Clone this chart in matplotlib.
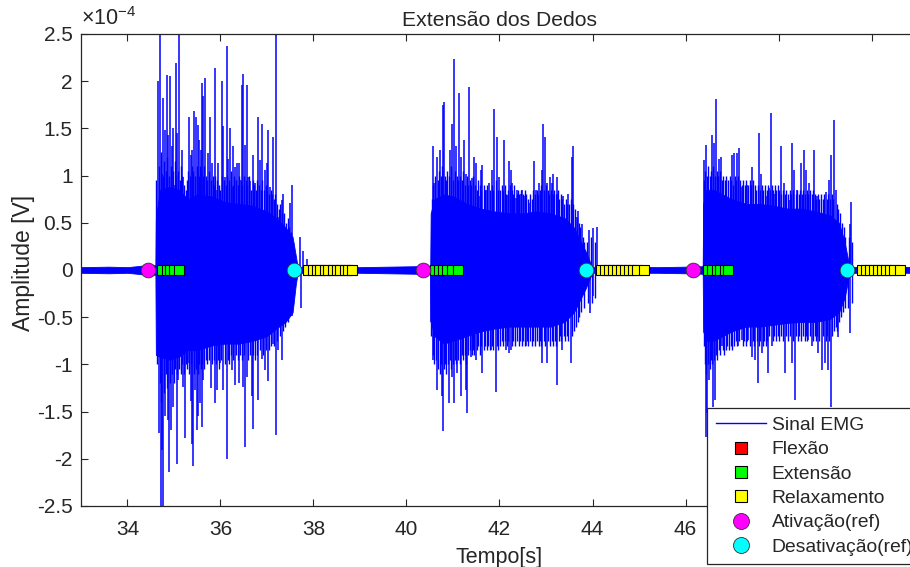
import numpy as np
import matplotlib
matplotlib.use('Agg')
import matplotlib.pyplot as plt
from matplotlib.lines import Line2D
from matplotlib.ticker import FuncFormatter

plt.rcParams['font.family'] = ['Liberation Sans', 'DejaVu Sans']
plt.rcParams['mathtext.fontset'] = 'custom'
plt.rcParams['mathtext.rm'] = 'Liberation Sans'
plt.rcParams['mathtext.it'] = 'Liberation Sans:italic'
plt.rcParams['axes.unicode_minus'] = False

SCALE = 1e-4  # values below are in units of 1e-4 V

# ---- dense core envelope of the EMG signal (x 1e-4 V) ----
core_t = [33.0, 33.6, 34.0, 34.3, 34.5, 34.60,
          34.61, 34.7, 34.9, 35.1, 35.3, 35.5, 35.8, 36.1, 36.4, 36.7, 37.0, 37.2, 37.4, 37.55, 37.62,
          37.66, 38.2, 39.0, 39.6, 40.2, 40.51,
          40.52, 40.6, 40.8, 41.0, 41.3, 41.6, 41.9, 42.2, 42.5, 42.8, 43.1, 43.4, 43.6, 43.75, 43.85, 43.95,
          44.0, 44.6, 45.4, 46.0, 46.37,
          46.38, 46.45, 46.6, 46.8, 47.0, 47.3, 47.6, 47.9, 48.2, 48.5, 48.8, 49.1, 49.3, 49.42, 49.5,
          49.55, 50.2, 51.0]
core_hi = [0.03, 0.035, 0.03, 0.045, 0.05, 0.05,
           0.55, 0.85, 0.88, 0.85, 0.75, 0.80, 0.78, 0.72, 0.70, 0.68, 0.62, 0.55, 0.45, 0.35, 0.15,
           0.03, 0.035, 0.03, 0.035, 0.04, 0.04,
           0.60, 0.75, 0.80, 0.78, 0.70, 0.65, 0.62, 0.60, 0.60, 0.62, 0.60, 0.55, 0.45, 0.30, 0.20, 0.08,
           0.03, 0.035, 0.03, 0.035, 0.04,
           0.70, 0.85, 0.85, 0.80, 0.75, 0.70, 0.70, 0.68, 0.65, 0.65, 0.62, 0.58, 0.50, 0.30, 0.10,
           0.03, 0.035, 0.03]
core_lo = [-0.03, -0.035, -0.03, -0.045, -0.05, -0.05,
           -0.90, -0.92, -0.95, -0.92, -0.85, -0.85, -0.80, -0.78, -0.78, -0.75, -0.70, -0.62, -0.55, -0.45, -0.15,
           -0.03, -0.03, -0.03, -0.035, -0.04, -0.04,
           -0.55, -0.70, -0.78, -0.75, -0.70, -0.65, -0.62, -0.60, -0.60, -0.60, -0.60, -0.55, -0.45, -0.30, -0.20, -0.08,
           -0.03, -0.03, -0.03, -0.035, -0.04,
           -0.65, -0.75, -0.75, -0.70, -0.65, -0.60, -0.60, -0.58, -0.56, -0.55, -0.55, -0.52, -0.45, -0.30, -0.10,
           -0.03, -0.03, -0.03]

# ---- dense medium peaks forming the ragged edge of the bursts (x 1e-4 V) ----
mid_up_t = [34.62, 34.68, 34.72, 34.76, 34.79, 34.82, 34.86, 34.89, 34.93, 34.97, 35.02, 35.05, 35.09, 35.13,
            35.15, 35.18, 35.22, 35.25, 35.28, 35.31, 35.34, 35.38, 35.41, 35.45, 35.49, 35.53, 35.56, 35.59,
            35.62, 35.65, 35.69, 35.72, 35.76, 35.79, 35.83, 35.85, 35.89, 35.93, 35.97, 36.00, 36.04, 36.08,
            36.11, 36.15, 36.19, 36.22, 36.26, 36.29, 36.33, 36.37, 36.40, 36.44, 36.47, 36.51, 36.55, 36.58,
            36.62, 36.66, 36.69, 36.72, 36.76, 36.79, 36.83, 36.87, 36.90, 36.93, 36.97, 37.01, 37.04, 37.08,
            37.11, 37.15, 37.17, 37.21, 37.26, 37.29, 37.33, 37.37, 37.40, 37.45, 37.48, 37.51, 37.56,
            40.54, 40.58, 40.62, 40.67, 40.70, 40.74, 40.76, 40.82, 40.84, 40.88, 40.91, 40.95, 41.00, 41.04,
            41.08, 41.11, 41.15, 41.19, 41.21, 41.25, 41.30, 41.33, 41.37, 41.39, 41.43, 41.47, 41.51, 41.54,
            41.58, 41.61, 41.66, 41.69, 41.73, 41.80, 41.83, 41.87, 41.92, 41.96, 42.01, 42.05, 42.08, 42.12,
            42.15, 42.19, 42.22, 42.26, 42.30, 42.32, 42.37, 42.40, 42.43, 42.47, 42.51, 42.55, 42.58, 42.61,
            42.65, 42.69, 42.72, 42.76, 42.80, 42.83, 42.87, 42.90, 42.96, 43.00, 43.04, 43.06, 43.10, 43.14,
            43.18, 43.21, 43.25, 43.29, 43.32, 43.35, 43.39, 43.43, 43.46, 43.50, 43.53, 43.57, 43.62, 43.67,
            43.71, 43.74, 43.79, 43.82, 43.88, 43.97, 44.05,
            46.40, 46.42, 46.46, 46.49, 46.52, 46.55, 46.59, 46.63, 46.67, 46.70, 46.74, 46.78, 46.81, 46.84,
            46.88, 46.91, 46.95, 46.98, 47.02, 47.06, 47.09, 47.13, 47.17, 47.21, 47.24, 47.27, 47.31, 47.35,
            47.38, 47.41, 47.45, 47.49, 47.52, 47.55, 47.60, 47.64, 47.67, 47.70, 47.75, 47.78, 47.81, 47.85,
            47.88, 47.92, 47.95, 47.98, 48.02, 48.06, 48.09, 48.13, 48.16, 48.20, 48.24, 48.27, 48.31, 48.37,
            48.40, 48.44, 48.47, 48.51, 48.53, 48.57, 48.61, 48.64, 48.68, 48.71, 48.74, 48.78, 48.81, 48.85,
            48.88, 48.91, 48.95, 48.98, 49.04, 49.06, 49.10, 49.16, 49.18, 49.25, 49.28, 49.33, 49.37, 49.40,
            49.44, 49.51, 49.59]
mid_up_v = [0.95, 1.10, 1.25, 1.00, 1.15, 1.05, 1.20, 1.00, 1.10, 1.05, 1.15, 1.00, 1.05, 0.95,
            1.10, 1.00, 0.90, 0.85, 0.95, 1.05, 1.00, 1.10, 1.05, 1.00, 1.10, 1.00, 1.10, 1.05,
            1.00, 1.10, 1.00, 0.95, 1.05, 0.95, 1.00, 0.90, 1.00, 0.95, 0.90, 0.85, 1.00, 0.95,
            0.90, 1.00, 0.95, 1.05, 0.90, 1.00, 0.95, 0.90, 1.00, 0.95, 0.90, 1.00, 0.95, 0.90,
            1.00, 0.85, 0.95, 0.90, 0.85, 0.95, 0.90, 0.85, 0.95, 0.85, 0.90, 0.85, 0.80, 0.85,
            0.80, 0.75, 0.80, 0.70, 0.65, 0.70, 0.60, 0.60, 0.50, 0.55, 0.45, 0.40, 0.30,
            0.75, 0.90, 1.00, 0.95, 1.05, 1.00, 1.10, 1.00, 0.95, 1.05, 1.00, 1.10, 0.95, 1.05,
            1.00, 0.95, 1.00, 0.95, 1.05, 0.90, 1.00, 0.90, 0.95, 0.90, 1.00, 0.90, 0.85, 0.95,
            0.90, 0.85, 0.90, 0.85, 0.90, 0.85, 0.90, 0.85, 0.95, 0.85, 0.85, 0.90, 0.85, 0.90,
            0.80, 0.85, 0.90, 0.85, 0.80, 0.90, 0.80, 0.85, 0.80, 0.85, 0.80, 0.85, 0.80, 0.75,
            0.80, 0.75, 0.85, 0.80, 0.85, 0.80, 0.85, 0.90, 0.85, 0.90, 0.85, 0.80, 0.85, 0.80,
            0.85, 0.80, 0.85, 0.75, 0.80, 0.75, 0.70, 0.75, 0.70, 0.70, 0.75, 0.70, 0.65, 0.55,
            0.50, 0.45, 0.35, 0.30, 0.30, 0.35, 0.30,
            0.95, 1.05, 1.00, 1.10, 1.00, 1.05, 1.10, 1.00, 1.05, 1.00, 1.05, 0.95, 1.00, 0.95,
            1.00, 0.95, 1.00, 0.95, 0.90, 1.00, 0.95, 1.00, 0.95, 0.90, 0.95, 0.90, 0.95, 0.90,
            0.95, 0.90, 0.95, 0.90, 0.85, 0.90, 0.85, 0.90, 0.85, 0.90, 0.85, 0.90, 0.85, 0.90,
            0.85, 0.90, 0.85, 0.90, 0.85, 0.80, 0.85, 0.80, 0.85, 0.80, 0.85, 0.80, 0.85, 0.80,
            0.85, 0.80, 0.85, 0.80, 0.85, 0.80, 0.85, 0.80, 0.85, 0.80, 0.85, 0.80, 0.75, 0.80,
            0.75, 0.80, 0.75, 0.80, 0.75, 0.80, 0.75, 0.80, 0.75, 0.70, 0.65, 0.60, 0.50, 0.45,
            0.35, 0.35, 0.30]

mid_dn_t = [34.63, 34.69, 34.73, 34.79, 34.83, 34.86, 34.92, 34.96, 35.00, 35.03, 35.07, 35.11, 35.14, 35.18,
            35.22, 35.26, 35.29, 35.33, 35.37, 35.43, 35.47, 35.51, 35.54, 35.58, 35.61, 35.65, 35.68, 35.72,
            35.75, 35.82, 35.85, 35.90, 35.94, 35.97, 36.02, 36.09, 36.16, 36.19, 36.22, 36.27, 36.34, 36.37,
            36.43, 36.46, 36.51, 36.59, 36.63, 36.69, 36.74, 36.78, 36.85, 36.92, 36.98, 37.05, 37.09, 37.16,
            37.21, 37.27, 37.34, 37.39, 37.46, 37.51,
            40.53, 40.57, 40.60, 40.64, 40.68, 40.71, 40.74, 40.80, 40.82, 40.86, 40.89, 40.94, 40.96, 41.00,
            41.04, 41.07, 41.11, 41.14, 41.19, 41.22, 41.25, 41.29, 41.33, 41.36, 41.40, 41.44, 41.46, 41.51,
            41.54, 41.58, 41.61, 41.66, 41.69, 41.73, 41.76, 41.79, 41.84, 41.87, 41.94, 41.97, 42.01, 42.05,
            42.08, 42.11, 42.16, 42.19, 42.27, 42.30, 42.34, 42.37, 42.41, 42.44, 42.48, 42.51, 42.54, 42.59,
            42.62, 42.66, 42.69, 42.73, 42.76, 42.80, 42.84, 42.87, 42.90, 42.95, 42.98, 43.05, 43.08, 43.12,
            43.15, 43.19, 43.22, 43.27, 43.30, 43.33, 43.38, 43.41, 43.45, 43.48, 43.56, 43.60, 43.64, 43.68,
            43.72, 43.76, 43.81, 43.90, 43.98, 44.06,
            46.39, 46.41, 46.45, 46.48, 46.52, 46.55, 46.57, 46.61, 46.65, 46.68, 46.72, 46.75, 46.80, 46.83,
            46.87, 46.90, 46.94, 46.97, 47.01, 47.05, 47.08, 47.11, 47.16, 47.23, 47.26, 47.30, 47.33, 47.38,
            47.45, 47.48, 47.53, 47.59, 47.61, 47.66, 47.69, 47.73, 47.76, 47.80, 47.88, 47.91, 47.95, 47.99,
            48.02, 48.06, 48.10, 48.17, 48.20, 48.24, 48.31, 48.38, 48.41, 48.45, 48.48, 48.52, 48.56, 48.59,
            48.62, 48.67, 48.74, 48.78, 48.81, 48.83, 48.88, 48.96, 49.03, 49.05, 49.09, 49.15, 49.19, 49.23,
            49.26, 49.31, 49.35, 49.39, 49.43, 49.50, 49.58]
mid_dn_v = [-1.00, -1.20, -1.40, -1.30, -1.10, -1.25, -1.20, -1.10, -1.20, -1.05, -1.10, -1.05, -1.10, -1.00,
            -1.10, -1.00, -1.05, -1.10, -1.00, -1.10, -1.05, -1.10, -1.00, -1.05, -1.00, -1.05, -0.95, -1.00,
            -0.95, -1.00, -0.95, -1.00, -0.95, -1.05, -0.95, -1.00, -0.95, -1.00, -0.90, -0.95, -0.90, -0.95,
            -0.90, -0.95, -0.90, -0.95, -0.90, -0.90, -0.95, -0.90, -0.85, -0.90, -0.85, -0.85, -0.80, -0.80,
            -0.75, -0.70, -0.65, -0.60, -0.55, -0.45,
            -0.70, -0.90, -1.00, -0.95, -1.05, -1.10, -1.00, -1.05, -1.00, -1.10, -1.00, -0.95, -1.05, -1.00,
            -0.95, -1.00, -0.95, -1.00, -0.90, -0.95, -0.90, -1.00, -0.90, -0.85, -0.90, -0.85, -0.90, -0.85,
            -0.80, -0.90, -0.80, -0.85, -0.80, -0.85, -0.80, -0.85, -0.80, -0.85, -0.80, -0.85, -0.80, -0.75,
            -0.80, -0.75, -0.80, -0.75, -0.80, -0.75, -0.80, -0.75, -0.80, -0.75, -0.80, -0.75, -0.80, -0.75,
            -0.80, -0.75, -0.80, -0.75, -0.80, -0.75, -0.80, -0.75, -0.80, -0.75, -0.80, -0.75, -0.80, -0.75,
            -0.80, -0.75, -0.80, -0.75, -0.70, -0.75, -0.70, -0.75, -0.70, -0.75, -0.70, -0.65, -0.60, -0.55,
            -0.50, -0.45, -0.40, -0.35, -0.35, -0.30,
            -0.80, -1.00, -1.10, -1.00, -1.05, -0.95, -1.00, -0.95, -0.90, -0.95, -0.85, -0.90, -0.85, -0.90,
            -0.85, -0.80, -0.85, -0.80, -0.85, -0.80, -0.75, -0.80, -0.75, -0.80, -0.75, -0.80, -0.75, -0.80,
            -0.75, -0.80, -0.75, -0.80, -0.75, -0.80, -0.75, -0.80, -0.75, -0.70, -0.75, -0.70, -0.75, -0.70,
            -0.75, -0.70, -0.75, -0.70, -0.75, -0.70, -0.75, -0.70, -0.75, -0.70, -0.75, -0.70, -0.75, -0.70,
            -0.75, -0.70, -0.75, -0.70, -0.75, -0.70, -0.75, -0.70, -0.75, -0.70, -0.75, -0.70, -0.65, -0.60,
            -0.65, -0.55, -0.50, -0.45, -0.40, -0.40, -0.35]

# ---- tall positive peaks (x 1e-4 V) ----
up_t = [34.663, 34.699, 34.735, 34.771, 34.807, 34.842, 34.878, 34.914, 34.950, 34.986, 35.007, 35.036,
        35.072, 35.115, 35.165, 35.201, 35.330, 35.359, 35.395, 35.430, 35.473, 35.509, 35.545, 35.574,
        35.602, 35.631, 35.674, 35.703, 35.739, 35.774, 35.810, 35.875, 35.918, 35.954, 36.025, 36.061,
        36.097, 36.133, 36.169, 36.205, 36.240, 36.276, 36.312, 36.348, 36.391, 36.420, 36.455, 36.491,
        36.527, 36.563, 36.599, 36.635, 36.706, 36.742, 36.814, 36.850, 36.886, 36.957, 36.993, 37.029,
        37.065, 37.136, 37.187, 37.244, 37.316, 37.351, 37.423, 37.495, 37.531, 37.70, 37.78, 37.86,
        40.562, 40.591, 40.648, 40.720, 40.778, 40.799, 40.864, 40.935, 40.971, 41.021, 41.057, 41.136,
        41.165, 41.236, 41.272, 41.351, 41.415, 41.451, 41.487, 41.559, 41.595, 41.631, 41.702, 41.774,
        41.846, 41.881, 41.953, 41.989, 42.097, 42.168, 42.204, 42.240, 42.276, 42.347, 42.383, 42.455,
        42.491, 42.527, 42.634, 42.742, 42.778, 42.849, 42.921, 42.942, 42.978, 43.014, 43.086, 43.122,
        43.157, 43.229, 43.265, 43.373, 43.480, 43.552, 43.588, 43.659, 43.695, 43.767, 43.924, 44.003,
        44.090,
        46.398, 46.434, 46.577, 46.613, 46.656, 46.721, 46.757, 46.864, 47.007, 47.043, 47.115, 47.151,
        47.187, 47.330, 47.438, 47.581, 47.617, 47.724, 47.796, 47.832, 47.904, 48.011, 48.047, 48.119,
        48.226, 48.298, 48.334, 48.405, 48.477, 48.549, 48.584, 48.656, 48.764, 48.835, 49.015, 49.086,
        49.122, 49.201, 49.230, 49.301, 49.538, 49.567]
up_v = [2.00, 2.60, 1.02, 1.82, 1.48, 2.07, 1.43, 2.05, 1.31, 1.50, 0.90, 2.19,
        1.45, 2.60, 1.27, 0.99, 1.62, 1.22, 1.27, 1.68, 1.62, 1.54, 1.38, 1.27,
        1.98, 1.84, 2.03, 0.92, 1.24, 1.62, 1.13, 2.14, 0.85, 1.13, 2.00, 1.52,
        0.99, 2.37, 1.18, 1.50, 0.88, 1.31, 1.09, 1.13, 1.13, 0.95, 1.96, 2.08,
        1.32, 1.96, 0.99, 0.94, 1.22, 0.92, 1.62, 1.17, 1.55, 1.06, 1.13, 1.48,
        0.88, 1.41, 2.60, 0.56, 0.74, 0.81, 0.25, 0.71, 0.90, 0.35, 0.20, 0.12,
        1.31, 0.92, 1.20, 1.27, 1.75, 1.78, 0.85, 1.27, 1.55, 2.24, 1.31, 1.87,
        1.20, 1.38, 1.02, 1.94, 0.97, 1.20, 1.13, 0.78, 1.06, 1.11, 0.85, 0.92,
        1.06, 1.71, 1.41, 0.99, 1.38, 0.79, 1.15, 1.06, 0.92, 0.76, 0.85, 0.81,
        0.85, 0.78, 0.71, 1.15, 0.85, 0.92, 1.06, 1.55, 1.41, 0.92, 0.99, 0.92,
        1.02, 0.99, 0.81, 0.78, 0.81, 1.20, 1.31, 0.56, 0.62, 0.49, 0.42, 0.44,
        0.46,
        1.17, 1.32, 1.43, 1.34, 1.81, 1.18, 1.20, 0.90, 1.22, 1.24, 1.24, 1.29,
        0.88, 0.90, 1.09, 1.45, 1.02, 0.78, 0.87, 1.66, 0.81, 0.78, 1.31, 0.92,
        0.74, 1.34, 1.06, 0.85, 1.13, 1.27, 1.06, 0.92, 1.27, 0.78, 0.83, 0.95,
        1.22, 1.59, 0.85, 0.49, 0.49, 0.72]

# ---- deep negative peaks (x 1e-4 V) ----
dn_t = [34.678, 34.713, 34.749, 34.771, 34.807, 34.878, 34.900, 34.936, 34.986, 35.058, 35.093, 35.165,
        35.201, 35.237, 35.308, 35.359, 35.395, 35.416, 35.452, 35.488, 35.524, 35.559, 35.595, 35.631,
        35.703, 35.789, 35.875, 35.918, 35.990, 36.061, 36.133, 36.240, 36.312, 36.391, 36.491, 36.527,
        36.563, 36.671, 36.706, 36.814, 36.886, 36.957, 37.029, 37.136, 37.187, 37.244, 37.316, 37.423,
        37.495, 37.531, 37.74,
        40.519, 40.562, 40.663, 40.756, 40.778, 40.842, 40.921, 40.985, 41.021, 41.093, 41.165, 41.272,
        41.308, 41.380, 41.487, 41.631, 41.810, 41.917, 42.132, 42.204, 42.240, 42.562, 42.921, 43.028,
        43.243, 43.351, 43.530, 43.946, 44.003,
        46.434, 46.470, 46.505, 46.599, 46.634, 46.706, 46.778, 47.136, 47.208, 47.351, 47.423, 47.495,
        47.566, 47.638, 47.781, 47.853, 48.140, 48.283, 48.355, 48.642, 48.713, 48.857, 48.928, 49.000,
        49.072, 49.129, 49.287, 49.538]
dn_v = [-1.73, -2.60, -1.91, -2.60, -1.55, -1.59, -2.14, -1.69, -1.45, -2.05, -1.17, -0.99,
        -1.24, -1.78, -0.99, -1.39, -1.84, -2.08, -1.27, -1.69, -1.55, -1.41, -1.66, -1.17,
        -0.92, -1.25, -1.41, -1.27, -0.99, -1.27, -2.00, -1.06, -1.22, -1.20, -1.24, -1.87,
        -1.13, -1.34, -1.68, -1.38, -0.94, -1.06, -1.18, -0.78, -1.75, -0.85, -0.95, -0.49,
        -0.49, -0.49, -0.40,
        -0.55, -0.95, -1.27, -1.34, -1.71, -0.85, -1.41, -1.13, -1.41, -1.09, -1.34, -1.27,
        -1.52, -0.92, -0.95, -1.09, -0.85, -1.29, -0.85, -0.88, -0.85, -0.81, -0.99, -0.99,
        -1.22, -0.85, -0.99, -0.46, -0.28,
        -1.77, -1.52, -1.17, -1.45, -1.38, -0.71, -0.81, -0.81, -0.74, -0.74, -0.92, -0.95,
        -1.20, -0.88, -1.09, -0.81, -1.09, -0.99, -1.38, -0.74, -0.81, -0.88, -1.06, -0.99,
        -1.06, -1.45, -0.71, -0.67]

# ---- classification / reference markers (time in s, amplitude 0) ----
flexao_t = []
extensao_t = [34.74, 34.84, 34.92, 35.01, 35.10,
              40.61, 40.70, 40.79, 40.88, 40.97, 41.11,
              46.49, 46.58, 46.67, 46.75, 46.84, 46.92]
relax_t = [37.88, 37.98, 38.07, 38.15, 38.24, 38.32, 38.41, 38.50, 38.58, 38.67, 38.75, 38.82,
           44.19, 44.27, 44.36, 44.44, 44.53, 44.62, 44.70, 44.79, 44.87, 44.96, 45.11,
           49.79, 49.88, 49.96, 50.05, 50.14, 50.22, 50.31, 50.39, 50.48, 50.61]
ativ_t = [34.45, 40.35, 46.17]
desat_t = [37.59, 43.86, 49.47]

x_ticks = [34, 36, 38, 40, 42, 44, 46, 48, 50]
y_ticks = [-2.5, -2, -1.5, -1, -0.5, 0, 0.5, 1, 1.5, 2, 2.5]

BLUE = (0, 0, 1)
TXT = '#262626'

fig = plt.figure(figsize=(9.10, 5.67), dpi=100)
ax = fig.add_axes([0.089, 0.1076, 0.9198, 0.8325])

s = SCALE
ax.fill_between(core_t, np.array(core_lo) * s, np.array(core_hi) * s, color=BLUE, lw=0.6, zorder=2)
ax.vlines(mid_up_t, 0, np.array(mid_up_v) * s, colors=[BLUE], lw=1.0, zorder=2)
ax.vlines(mid_dn_t, 0, np.array(mid_dn_v) * s, colors=[BLUE], lw=1.0, zorder=2)
ax.vlines(up_t, 0, np.array(up_v) * s, colors=[BLUE], lw=1.1, zorder=2)
ax.vlines(dn_t, 0, np.array(dn_v) * s, colors=[BLUE], lw=1.1, zorder=2)

sq = dict(marker='s', ms=7.8, mew=0.8, mec='black', ls='none', zorder=4)
ci = dict(marker='o', ms=10.6, mew=0.6, mec='#303030', ls='none', zorder=5)
ax.plot(flexao_t, [0.0] * len(flexao_t), mfc=(1, 0, 0), **sq)
ax.plot(extensao_t, [0.0] * len(extensao_t), mfc=(0, 1, 0), **sq)
ax.plot(relax_t, [0.0] * len(relax_t), mfc=(1, 1, 0), **sq)
ax.plot(ativ_t, [0.0] * len(ativ_t), mfc=(1, 0, 1), **ci)
ax.plot(desat_t, [0.0] * len(desat_t), mfc=(0, 1, 1), **ci)

ax.set_xlim(33, 51)
ax.set_ylim(-2.5 * s, 2.5 * s)
ax.set_xticks(x_ticks)
ax.set_yticks([v * s for v in y_ticks])
ax.xaxis.set_major_formatter(FuncFormatter(lambda v, p: '%g' % v))
ax.yaxis.set_major_formatter(FuncFormatter(lambda v, p: '0' if abs(v) < 1e-12 else '%g' % round(v / s, 3)))
ax.tick_params(direction='in', length=5, width=0.8, colors=TXT, labelsize=15, top=True, right=True,
               labelcolor=TXT)
ax.tick_params(axis='x', pad=10)
ax.tick_params(axis='y', pad=6)
for sp in ax.spines.values():
    sp.set_color(TXT)
    sp.set_linewidth(0.9)

ax.text(0.0, 1.008, r'$\times10^{-4}$', transform=ax.transAxes, ha='left', va='bottom', fontsize=15.5, color=TXT)
ax.set_title('Extensão dos Dedos', fontsize=15.2, color=TXT, pad=6)
ax.set_xlabel('Tempo[s]', fontsize=15.5, color=TXT, labelpad=6)
ax.set_ylabel('Amplitude [V]', fontsize=16.5, color=TXT, labelpad=3)
ax.yaxis.set_label_coords(-0.055, 0.515)

handles = [
    Line2D([], [], color=BLUE, lw=1.0),
    Line2D([], [], marker='s', ms=8.5, mew=0.8, mec='black', mfc=(1, 0, 0), ls='none'),
    Line2D([], [], marker='s', ms=8.5, mew=0.8, mec='black', mfc=(0, 1, 0), ls='none'),
    Line2D([], [], marker='s', ms=8.5, mew=0.8, mec='black', mfc=(1, 1, 0), ls='none'),
    Line2D([], [], marker='o', ms=11.5, mew=0.6, mec='#303030', mfc=(1, 0, 1), ls='none'),
    Line2D([], [], marker='o', ms=11.5, mew=0.6, mec='#303030', mfc=(0, 1, 1), ls='none'),
]
labels = ['Sinal EMG', 'Flexão', 'Extensão', 'Relaxamento', 'Ativação(ref)', 'Desativação(ref)']
leg = fig.legend(handles, labels, loc='upper left', bbox_to_anchor=(707 / 910, 1 - 408 / 567),
                 fontsize=13.9, frameon=True, fancybox=False, edgecolor=TXT, framealpha=1,
                 handlelength=2.6, handletextpad=0.3, labelspacing=0.35, borderpad=0.45,
                 borderaxespad=0)
leg.get_frame().set_linewidth(0.9)
for t in leg.get_texts():
    t.set_color(TXT)

fig.savefig('out.png', dpi=100)
